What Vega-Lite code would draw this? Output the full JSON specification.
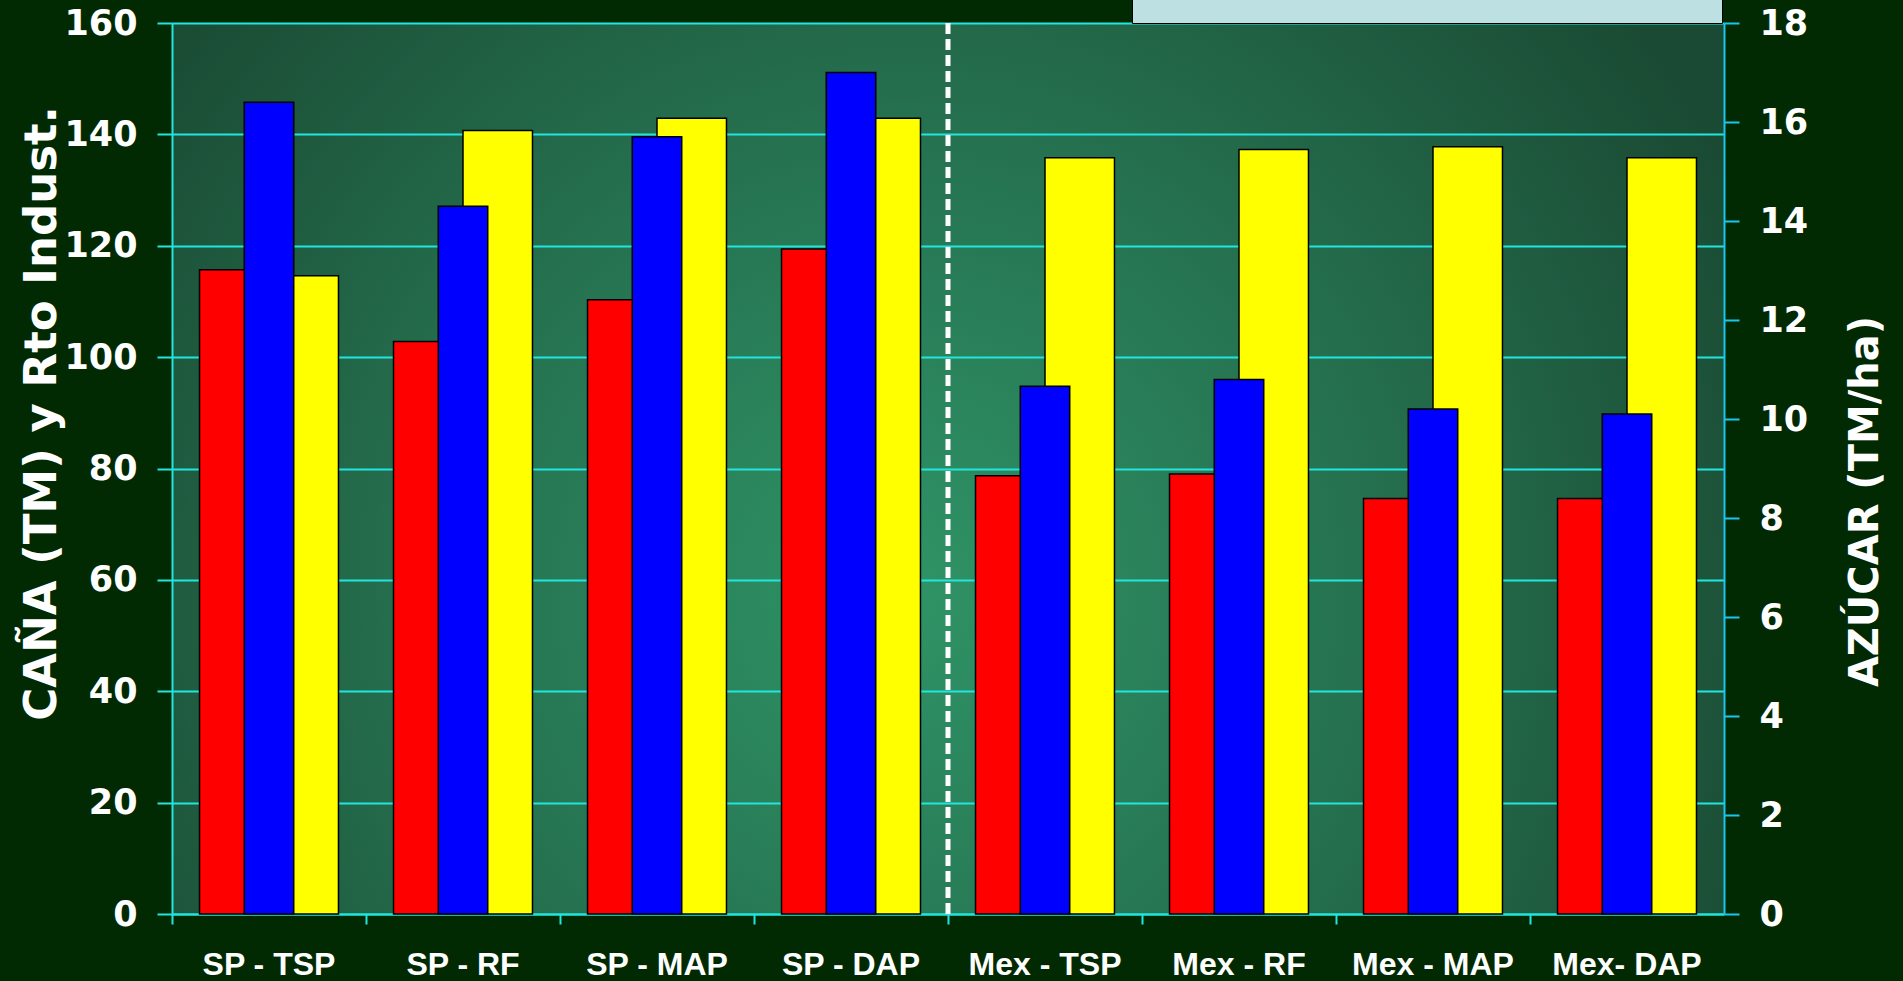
{
  "$schema": "https://vega.github.io/schema/vega-lite/v6.json",
  "width": 1552,
  "height": 891,
  "autosize": {"type": "none"},
  "padding": {"left": 172, "top": 23, "right": 179, "bottom": 67},
  "background": "#012a03",
  "config": {
    "view": {
      "stroke": null,
      "fill": {
        "gradient": "radial",
        "x1": 0.47, "y1": 0.58, "r1": 0,
        "x2": 0.47, "y2": 0.58, "r2": 0.6,
        "stops": [
          {"offset": 0, "color": "#2f9466"},
          {"offset": 0.5, "color": "#257150"},
          {"offset": 1, "color": "#1a4a33"}
        ]
      }
    },
    "legend": {
      "orient": "none",
      "legendX": 960,
      "legendY": -74,
      "direction": "horizontal",
      "fillColor": "#bde0e3",
      "strokeColor": "#000000",
      "padding": 25,
      "labelFont": "DejaVu Sans",
      "labelFontWeight": "bold",
      "labelFontSize": 20,
      "labelColor": "#000000",
      "symbolType": "square",
      "symbolSize": 400,
      "symbolStrokeColor": "#000000",
      "columnPadding": 89
    }
  },
  "datasets": {
    "barras": [
      {"grupo": "SP - TSP", "serie": "CAÑA", "valor": 115.7},
      {"grupo": "SP - TSP", "serie": "AZÚCAR", "valor": 16.4},
      {"grupo": "SP - TSP", "serie": "Rto Indust.", "valor": 114.6},
      {"grupo": "SP - RF", "serie": "CAÑA", "valor": 102.8},
      {"grupo": "SP - RF", "serie": "AZÚCAR", "valor": 14.3},
      {"grupo": "SP - RF", "serie": "Rto Indust.", "valor": 140.7},
      {"grupo": "SP - MAP", "serie": "CAÑA", "valor": 110.3},
      {"grupo": "SP - MAP", "serie": "AZÚCAR", "valor": 15.7},
      {"grupo": "SP - MAP", "serie": "Rto Indust.", "valor": 142.9},
      {"grupo": "SP - DAP", "serie": "CAÑA", "valor": 119.4},
      {"grupo": "SP - DAP", "serie": "AZÚCAR", "valor": 17.0},
      {"grupo": "SP - DAP", "serie": "Rto Indust.", "valor": 142.9},
      {"grupo": "Mex - TSP", "serie": "CAÑA", "valor": 78.7},
      {"grupo": "Mex - TSP", "serie": "AZÚCAR", "valor": 10.66},
      {"grupo": "Mex - TSP", "serie": "Rto Indust.", "valor": 135.8},
      {"grupo": "Mex - RF", "serie": "CAÑA", "valor": 79.0},
      {"grupo": "Mex - RF", "serie": "AZÚCAR", "valor": 10.8},
      {"grupo": "Mex - RF", "serie": "Rto Indust.", "valor": 137.3},
      {"grupo": "Mex - MAP", "serie": "CAÑA", "valor": 74.6},
      {"grupo": "Mex - MAP", "serie": "AZÚCAR", "valor": 10.2},
      {"grupo": "Mex - MAP", "serie": "Rto Indust.", "valor": 137.8},
      {"grupo": "Mex- DAP", "serie": "CAÑA", "valor": 74.6},
      {"grupo": "Mex- DAP", "serie": "AZÚCAR", "valor": 10.1},
      {"grupo": "Mex- DAP", "serie": "Rto Indust.", "valor": 135.8}
    ],
    "separador": [{"grupo": "Mex - TSP"}]
  },
  "layer": [
    {
      "data": {"name": "barras"},
      "transform": [{"filter": {"field": "serie", "oneOf": ["CAÑA", "Rto Indust."]}}],
      "mark": {"type": "bar", "stroke": "#000000", "strokeWidth": 1.5},
      "encoding": {
        "x": {
          "field": "grupo", "type": "nominal", "title": null,
          "scale": {"domain": ["SP - TSP", "SP - RF", "SP - MAP", "SP - DAP", "Mex - TSP", "Mex - RF", "Mex - MAP", "Mex- DAP"], "paddingInner": 0, "paddingOuter": 0},
          "axis": {
            "title": null,
            "bandPosition": 0,
            "labelAngle": 0,
            "labelFont": "Liberation Sans",
            "labelFontWeight": "bold",
            "labelFontSize": 32,
            "labelColor": "#ffffff",
            "labelPadding": 25,
            "labelOverlap": false,
            "labelBound": false,
            "labelFlush": false,
            "tickColor": "#22e5e0",
            "tickWidth": 2,
            "tickSize": 10,
            "domainColor": "#22e5e0",
            "domainWidth": 2,
            "grid": false
          }
        },
        "xOffset": {
          "field": "serie", "type": "nominal",
          "scale": {"domain": ["CAÑA", "Rto Indust."], "paddingInner": 0, "paddingOuter": 0.396}
        },
        "y": {
          "field": "valor", "type": "quantitative",
          "scale": {"domain": [0, 160], "nice": false},
          "axis": {
            "values": [0, 20, 40, 60, 80, 100, 120, 140, 160],
            "grid": true,
            "gridColor": "#22e5e0",
            "gridWidth": 2,
            "domainColor": "#22e5e0",
            "domainWidth": 2,
            "tickColor": "#22e5e0",
            "tickWidth": 2,
            "tickSize": 15,
            "labelFont": "DejaVu Sans",
            "labelFontWeight": "bold",
            "labelFontSize": 35,
            "labelColor": "#ffffff",
            "labelPadding": 20,
            "title": "CAÑA (TM) y Rto Indust.",
            "titleFont": "DejaVu Sans",
            "titleFontWeight": "bold",
            "titleFontSize": 45,
            "titleColor": "#ffffff",
            "titleAngle": -90,
            "titleAlign": "center",
            "titleBaseline": "middle",
            "titleX": -131,
            "titleY": 390
          }
        },
        "color": {
          "field": "serie", "type": "nominal", "title": null,
          "scale": {"domain": ["CAÑA", "AZÚCAR", "Rto Indust."], "range": ["#ff0000", "#0000ff", "#ffff00"]}
        }
      }
    },
    {
      "data": {"name": "barras"},
      "transform": [{"filter": {"field": "serie", "equal": "AZÚCAR"}}],
      "mark": {"type": "bar", "stroke": "#000000", "strokeWidth": 1.5, "width": {"band": 0.255}},
      "encoding": {
        "x": {"field": "grupo", "type": "nominal", "title": null},
        "y": {
          "field": "valor", "type": "quantitative",
          "scale": {"domain": [0, 18], "nice": false},
          "axis": {
            "orient": "right",
            "values": [0, 2, 4, 6, 8, 10, 12, 14, 16, 18],
            "grid": false,
            "domainColor": "#19c6ee",
            "domainWidth": 2,
            "tickColor": "#19c6ee",
            "tickWidth": 2,
            "tickSize": 15,
            "labelFont": "DejaVu Sans",
            "labelFontWeight": "bold",
            "labelFontSize": 35,
            "labelColor": "#ffffff",
            "labelPadding": 20,
            "title": "AZÚCAR (TM/ha)",
            "titleFont": "DejaVu Sans",
            "titleFontWeight": "bold",
            "titleFontSize": 40,
            "titleColor": "#ffffff",
            "titleAngle": -90,
            "titleAlign": "center",
            "titleBaseline": "middle",
            "titleX": 141,
            "titleY": 478
          }
        },
        "color": {"field": "serie", "type": "nominal", "title": null}
      }
    },
    {
      "data": {"name": "separador"},
      "mark": {"type": "rule", "color": "#ffffff", "strokeWidth": 5, "strokeDash": [11, 5]},
      "encoding": {
        "x": {"field": "grupo", "type": "nominal", "title": null, "bandPosition": 0}
      }
    }
  ],
  "resolve": {"scale": {"y": "independent"}}
}
